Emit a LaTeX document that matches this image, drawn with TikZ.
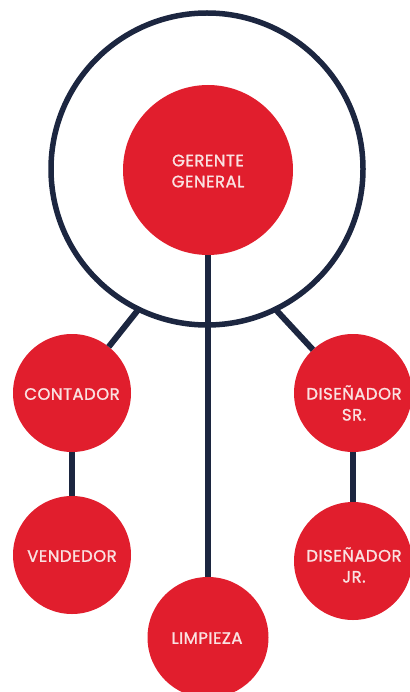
\documentclass[tikz,border=0pt]{standalone}
\usepackage{fontspec}
\setmainfont{Poppins}
\newfontfamily\lblfont{Poppins}[FakeBold=1.3, LetterSpace=3]
\definecolor{navy}{RGB}{28,38,64}
\definecolor{chartred}{RGB}{225,30,45}
\definecolor{labelpink}{RGB}{250,226,226}
\tikzset{
  link/.style={draw=navy, line width=6pt},
  ring/.style={circle, draw=navy, line width=5.5pt, minimum size=312pt, inner sep=0pt, outer sep=0pt},
  bigdot/.style={circle, fill=chartred, minimum size=170pt, inner sep=0pt, outer sep=0pt},
  dot/.style={circle, fill=chartred, minimum size=118pt, inner sep=0pt, outer sep=0pt},
  lbl/.style={text=labelpink, font=\lblfont\fontsize{16.5}{21}\selectfont, align=center, inner sep=0pt}
}
\begin{document}
\begin{tikzpicture}[x=1pt, y=-1pt]
  \useasboundingbox (0,0) rectangle (409,692);
  % outer ring and the head of the chart
  \node[ring] (ring) at (207,169) {};
  \node[bigdot] (gg) at (208,170) {};
  % subordinate positions
  \node[dot] (con) at (72,393) {};
  \node[dot] (ven) at (72,555) {};
  \node[dot] (dsr) at (353,393) {};
  \node[dot] (djr) at (353,561) {};
  \node[dot, minimum size=121pt] (lim) at (208,637.5) {};
  % connectors
  \draw[link] (gg) -- (lim);
  \draw[link] (ring.244) -- (con);
  \draw[link] (ring.296) -- (dsr);
  \draw[link] (con) -- (ven);
  \draw[link] (dsr) -- (djr);
  % labels
  \node[lbl] (tgg) at (208,171) {GERENTE\\GENERAL};
  \node[lbl] (tcon) at (72,394) {CONTADOR};
  \node[lbl] (tven) at (72,556) {VENDEDOR};
  \node[lbl] (tdsr) at (354,403) {DISEÑADOR\\SR.};
  \node[lbl] (tdjr) at (354,565) {DISEÑADOR\\JR.};
  \node[lbl] (tlim) at (207,638) {LIMPIEZA};
\end{tikzpicture}
\end{document}
